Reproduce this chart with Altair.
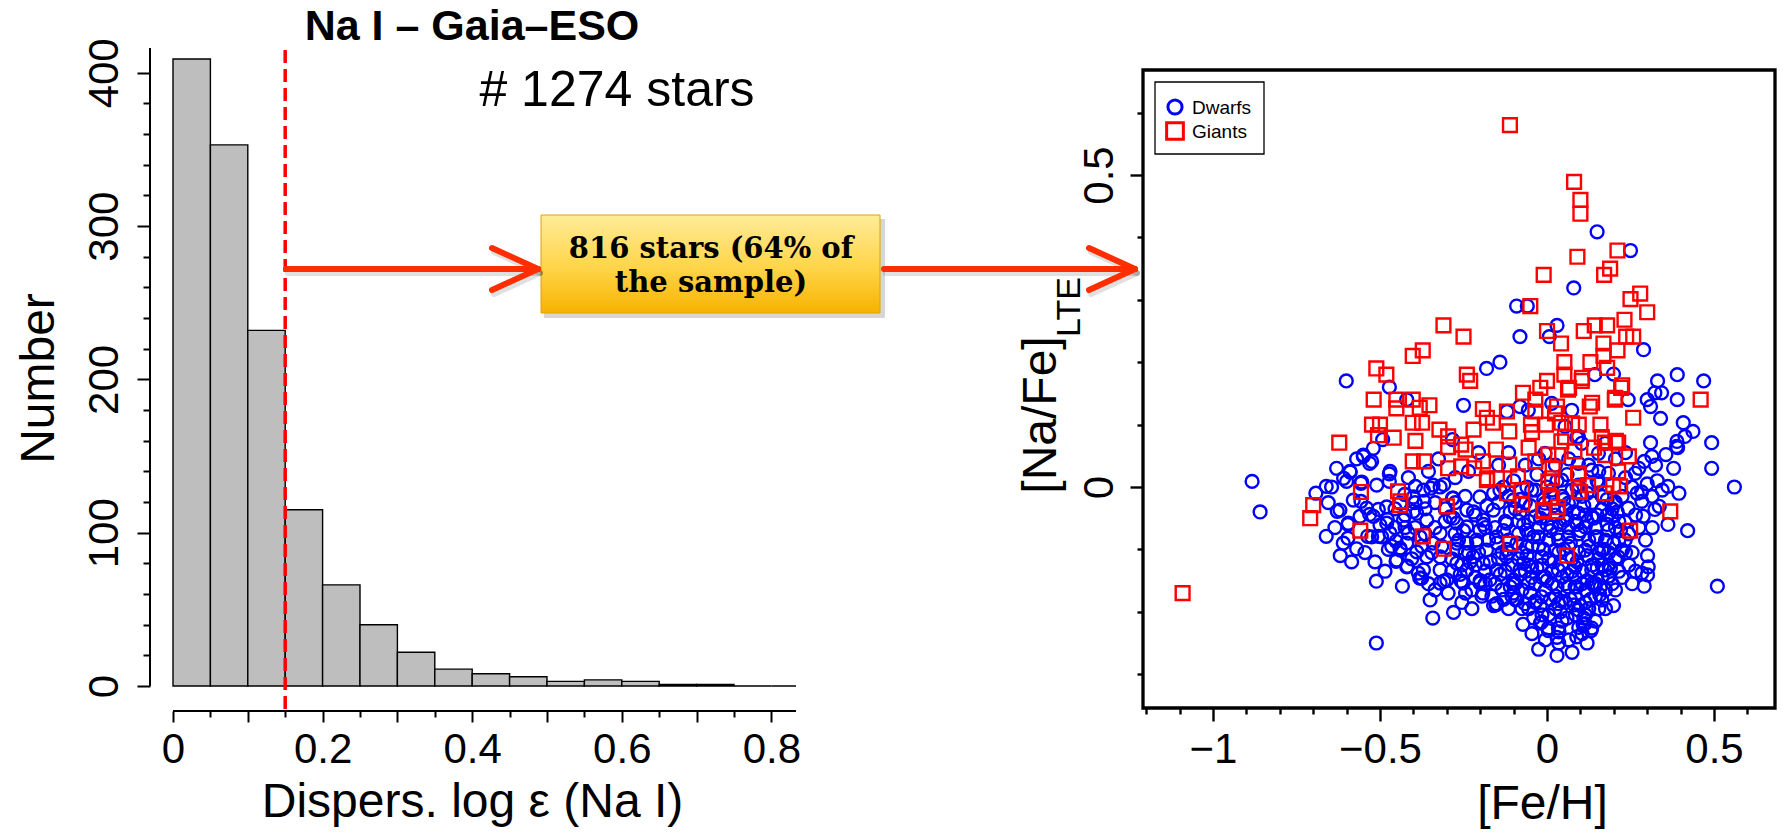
import altair as alt
import pandas as pd

FONT = "Liberation Sans"
ARROW_RED = "#FF2D00"
BLUE = "#0000FF"
RED = "#FF0000"

# ---------------- left panel: dispersion histogram ----------------
bin_lo = [0.00, 0.05, 0.10, 0.15, 0.20, 0.25, 0.30, 0.35, 0.40, 0.45, 0.50, 0.55, 0.60, 0.65, 0.70, 0.75, 0.80]
bin_hi = [0.05, 0.10, 0.15, 0.20, 0.25, 0.30, 0.35, 0.40, 0.45, 0.50, 0.55, 0.60, 0.65, 0.70, 0.75, 0.80, 0.85]
counts = [409, 353, 232, 115, 66, 40, 22, 11, 8, 6, 3, 4, 3, 1, 1, 0, 0]
cut_value = [0.15]
n_stars = 1274
n_selected = 816
pct_selected = 64

hist_x_ticks = [0, 0.05, 0.1, 0.15, 0.2, 0.25, 0.3, 0.35, 0.4, 0.45, 0.5, 0.55, 0.6, 0.65, 0.7, 0.75, 0.8]
hist_y_ticks = [0, 20, 40, 60, 80, 100, 120, 140, 160, 180, 200, 220, 240, 260, 280, 300, 320, 340, 360, 380, 400]

# ---------------- right panel: [Na/Fe] vs [Fe/H] ----------------
feh_ticks = [-1.2, -1.1, -1.0, -0.9, -0.8, -0.7, -0.6, -0.5, -0.4, -0.3, -0.2, -0.1, 0.0, 0.1, 0.2, 0.3, 0.4, 0.5, 0.6]
nafe_ticks = [-0.3, -0.2, -0.1, 0.0, 0.1, 0.2, 0.3, 0.4, 0.5, 0.6]
classes = ["Dwarfs", "Giants"]

giants = [
    (-0.111, 0.580), (0.081, 0.489), (0.100, 0.460), (0.100, 0.438), (0.091, 0.369), (0.211, 0.379),
    (0.189, 0.350), (0.171, 0.340), (-0.010, 0.340), (-0.050, 0.290), (0.279, 0.310), (0.250, 0.301),
    (0.300, 0.280), (-0.310, 0.259), (-0.250, 0.241), (-0.372, 0.219), (-0.402, 0.210), (0.000, 0.250),
    (0.042, 0.230), (0.110, 0.250), (0.143, 0.259), (0.180, 0.259), (0.232, 0.268), (0.237, 0.241),
    (0.258, 0.241), (0.169, 0.230), (0.211, 0.219), (0.169, 0.210), (0.052, 0.200), (0.130, 0.200),
    (0.180, 0.191), (-0.511, 0.190), (-0.481, 0.180), (-0.240, 0.180), (-0.230, 0.170), (0.000, 0.170),
    (0.052, 0.180), (0.104, 0.170), (-0.020, 0.159), (0.222, 0.159), (-0.519, 0.140), (-0.451, 0.140),
    (-0.402, 0.140), (-0.451, 0.126), (-0.352, 0.131), (-0.381, 0.127), (-0.072, 0.151), (-0.035, 0.140),
    (0.066, 0.159), (0.203, 0.140), (0.460, 0.140), (-0.192, 0.125), (-0.120, 0.121), (-0.035, 0.121),
    (0.030, 0.129), (0.128, 0.129), (0.258, 0.111), (-0.524, 0.100), (-0.402, 0.103), (-0.374, 0.103),
    (-0.322, 0.092), (-0.220, 0.092), (-0.162, 0.103), (-0.113, 0.089), (-0.048, 0.100), (-0.003, 0.100),
    (0.043, 0.103), (0.095, 0.100), (0.160, 0.100), (-0.622, 0.071), (-0.459, 0.079), (-0.394, 0.074),
    (-0.296, 0.081), (-0.257, 0.068), (0.206, 0.074),
    (-0.244, 0.060), (-0.192, 0.041), (-0.153, 0.060), (-0.113, 0.036), (-0.055, 0.063), (-0.035, 0.041),
    (0.004, 0.052), (0.043, 0.073), (0.082, 0.057), (0.141, 0.063), (0.173, 0.071), (0.213, 0.071),
    (0.245, 0.049), (-0.402, 0.041), (-0.368, 0.041), (-0.296, 0.030), (-0.257, 0.033), (-0.218, 0.030),
    (0.017, 0.030), (0.095, 0.020), (0.213, 0.025), (-0.087, 0.017), (-0.179, 0.014), (0.004, 0.009),
    (-0.557, -0.008), (-0.446, -0.007), (-0.439, -0.023), (-0.120, -0.010), (0.095, -0.007), (0.173, -0.010),
    (0.219, 0.001), (-0.074, -0.028), (0.010, -0.018), (-0.700, -0.029), (-0.300, -0.031), (-0.009, -0.039),
    (0.030, -0.039), (0.369, -0.039), (-0.709, -0.050), (-0.559, -0.070), (0.249, -0.070), (-0.372, -0.079),
    (-0.309, -0.099), (-0.110, -0.091), (0.060, -0.110), (-1.091, -0.170),
    (0.063, 0.156), (0.135, 0.135), (0.024, 0.118), (0.075, 0.102), (0.164, 0.080), (-0.045, 0.088),
    (0.054, 0.080), (0.033, 0.051), (0.174, 0.051), (0.093, 0.022), (0.015, 0.014), (0.123, 0.003),
    (0.099, -0.008), (0.015, -0.016), (0.033, -0.032), (-0.012, -0.037), (0.198, 0.003), (0.105, 0.175),
    (0.225, 0.163), (0.204, 0.143),
    (-0.500, 0.100), (-0.506, 0.083), (-0.296, 0.064), (-0.180, 0.111), (-0.180, 0.011), (-0.150, 0.014),
    (-0.440, -0.029), (-0.075, -0.005),
]

dwarfs_upper = [
    (0.150, 0.409), (0.250, 0.379), (0.080, 0.319), (-0.091, 0.290), (-0.059, 0.290), (0.030, 0.259),
    (-0.081, 0.241), (0.007, 0.241), (0.289, 0.220), (-0.141, 0.200), (-0.181, 0.190), (-0.601, 0.170),
    (-0.472, 0.160), (0.143, 0.180), (0.199, 0.181), (0.331, 0.170), (0.390, 0.180), (0.469, 0.170),
    (0.323, 0.151), (0.343, 0.151), (0.243, 0.140), (0.300, 0.140), (0.390, 0.140), (0.310, 0.129),
    (-0.250, 0.131), (-0.420, 0.140), (-0.120, 0.121), (-0.081, 0.129), (0.340, 0.110), (0.408, 0.103),
    (0.437, 0.089), (0.389, 0.073), (0.493, 0.071), (0.310, 0.071), (-0.492, 0.076), (-0.283, 0.076),
    (0.089, 0.079), (0.388, 0.065), (0.413, 0.081),
]

dwarfs_outer = [
    (-0.883, 0.009), (-0.859, -0.040), (0.561, 0.000), (0.510, -0.159), (-0.511, -0.250), (0.030, -0.270),
    (-0.342, -0.210), (-0.280, -0.201), (-0.350, -0.181), (-0.072, -0.220), (-0.020, -0.218), (0.004, -0.230),
    (0.036, -0.232), (0.030, -0.241), (0.089, -0.240), (0.108, -0.220), (0.132, -0.230), (0.199, -0.190),
    (-0.433, -0.159), (-0.511, -0.151), (-0.381, -0.146), (-0.619, -0.110), (-0.570, -0.099), (-0.661, -0.079),
    (-0.628, -0.039), (-0.692, -0.010), (-0.661, 0.001), (-0.645, 0.000), (-0.609, 0.014), (-0.589, 0.024),
    (-0.557, 0.006), (-0.550, 0.049), (-0.531, 0.038), (-0.596, -0.060), (-0.531, -0.044), (-0.557, -0.023),
    (-0.472, 0.021), (0.291, -0.159), (0.301, -0.141), (0.301, -0.110), (0.284, -0.138), (0.421, -0.070),
    (0.362, -0.060), (0.493, 0.030), (0.379, 0.030), (0.395, -0.010), (0.362, 0.001), (0.330, 0.010),
    (0.275, 0.030), (0.291, 0.041), (0.314, 0.049), (0.356, 0.052), (0.391, 0.063), (0.284, -0.023),
    (0.288, -0.047), (0.336, -0.031), (0.323, -0.036), (0.202, -0.026), (0.226, -0.101), (0.186, -0.143),
    (0.158, -0.173), (0.115, -0.205), (0.082, -0.189), (0.043, -0.183), (-0.035, -0.183), (-0.094, -0.181),
    (-0.153, -0.189), (-0.192, -0.170), (-0.244, -0.170), (-0.296, -0.170), (-0.309, -0.151), (-0.257, -0.151),
    (-0.418, -0.127), (-0.452, -0.119), (-0.439, -0.101), (-0.452, -0.087), (-0.505, -0.079), (-0.537, -0.079),
    (-0.596, -0.082), (-0.478, -0.052), (-0.505, -0.036), (-0.472, 0.009), (-0.426, -0.012), (-0.400, -0.039),
    (-0.368, -0.023), (-0.348, -0.002), (-0.309, 0.004), (-0.283, -0.018), (-0.394, 0.001), (0.283, -0.008),
    (0.303, -0.128),
]

dwarfs_metal_poor_side = [
    (-0.550, 0.051), (-0.525, 0.041), (-0.520, 0.062), (-0.590, 0.025), (-0.600, 0.009), (-0.555, 0.008),
    (-0.470, 0.025), (-0.510, 0.003), (-0.620, -0.037), (-0.595, -0.058), (-0.540, -0.034), (-0.520, -0.047),
    (-0.500, -0.061), (-0.525, -0.080), (-0.495, -0.080), (-0.470, -0.074), (-0.480, -0.058), (-0.430, -0.053),
    (-0.440, -0.098), (-0.450, -0.117), (-0.420, -0.128), (-0.385, -0.138), (-0.375, -0.146), (-0.320, -0.133),
    (-0.300, -0.149), (-0.360, -0.112), (-0.320, -0.112), (-0.270, -0.122), (-0.240, -0.133), (-0.201, -0.154),
    (-0.151, -0.187), (-0.101, -0.170), (-0.151, -0.133), (-0.191, -0.122), (-0.101, -0.149), (-0.071, -0.122),
    (-0.440, -0.026), (-0.400, -0.016), (-0.370, -0.005), (-0.341, 0.003), (-0.320, 0.000), (-0.281, -0.018),
    (-0.240, -0.037), (-0.290, -0.048), (-0.360, -0.053), (-0.390, -0.042), (-0.320, -0.074), (-0.270, -0.058),
    (-0.240, -0.090), (-0.201, -0.069), (-0.161, -0.037), (-0.121, -0.058), (-0.081, -0.042), (-0.201, -0.016),
    (-0.141, -0.005), (-0.101, -0.021), (-0.221, -0.112), (-0.181, -0.101), (-0.121, -0.112), (-0.061, -0.096),
    (-0.061, -0.069), (-0.191, -0.053), (-0.151, -0.080), (-0.081, -0.133), (-0.101, -0.154), (-0.171, -0.149),
    (-0.240, -0.064), (-0.211, -0.085), (-0.270, -0.090), (-0.341, -0.090), (-0.380, -0.080), (-0.415, -0.074),
    (-0.420, -0.090), (-0.390, -0.104), (-0.560, -0.047), (-0.580, -0.021), (-0.480, -0.032), (-0.251, -0.154),
    (-0.320, -0.154), (-0.370, -0.133),
    (-0.455, -0.035), (-0.425, -0.045), (-0.395, -0.025), (-0.365, -0.035), (-0.335, -0.025), (-0.305, -0.035),
    (-0.275, -0.025), (-0.245, -0.015), (-0.215, -0.045), (-0.185, -0.065), (-0.455, -0.065), (-0.425, -0.065),
    (-0.395, -0.065), (-0.365, -0.075), (-0.335, -0.065), (-0.305, -0.055), (-0.275, -0.075), (-0.245, -0.105),
    (-0.215, -0.145), (-0.185, -0.155), (-0.405, -0.115), (-0.375, -0.095), (-0.345, -0.105), (-0.315, -0.095),
    (-0.285, -0.135), (-0.255, -0.185), (-0.225, -0.195), (-0.355, -0.155), (-0.335, -0.165), (-0.465, -0.095),
    (-0.655, -0.025), (-0.635, -0.065), (-0.610, -0.090), (-0.585, -0.120), (-0.545, -0.105), (-0.515, -0.120),
    (-0.485, -0.135), (-0.475, -0.100), (-0.630, 0.030), (-0.570, 0.045),
    (-0.415, 0.015), (-0.355, 0.025), (-0.325, 0.045), (-0.275, 0.015), (-0.235, 0.025), (-0.205, 0.055),
    (-0.145, 0.035), (-0.115, 0.055), (-0.065, 0.035), (-0.025, 0.045),
]

dwarfs_metal_rich_side = [
    (0.174, -0.133), (0.184, -0.143), (0.144, -0.160), (0.084, -0.160), (0.164, -0.181), (0.094, -0.197),
    (0.034, -0.187), (-0.016, -0.176), (-0.056, -0.154), (-0.016, -0.216), (0.004, -0.226), (0.034, -0.226),
    (0.114, -0.219), (0.134, -0.226), (0.213, -0.112), (0.234, -0.085), (0.224, -0.101), (0.243, -0.034),
    (0.204, -0.024), (0.234, -0.056), (0.184, -0.069), (0.194, -0.048), (0.164, -0.036), (0.134, -0.048),
    (0.114, -0.064), (0.144, -0.080), (0.164, -0.101), (0.114, -0.101), (0.084, -0.128), (0.134, -0.133),
    (0.034, -0.133), (-0.006, -0.144), (-0.046, -0.128), (-0.016, -0.112), (0.024, -0.101), (-0.026, -0.080),
    (0.014, -0.064), (0.064, -0.080), (0.054, -0.053), (0.094, -0.042), (-0.036, -0.048), (-0.006, -0.026),
    (0.064, -0.026), (-0.046, -0.005), (0.044, 0.011), (0.094, 0.003), (0.154, 0.006), (0.184, 0.022),
    (0.134, 0.027), (0.094, 0.038), (0.104, 0.070), (0.154, 0.054), (0.174, 0.070), (0.074, 0.123),
    (-0.056, 0.123), (0.014, 0.134), (0.094, 0.081), (0.054, 0.097), (-0.006, 0.054), (0.254, 0.000),
    (0.264, 0.022), (0.064, -0.160), (-0.066, -0.187),
    (0.265, -0.045), (0.275, -0.065), (0.295, -0.085), (0.315, -0.065), (0.265, -0.135), (0.255, -0.155),
    (0.270, -0.010), (0.300, 0.005), (0.315, -0.015), (0.345, -0.005), (0.325, 0.035), (0.235, 0.015),
    (0.225, -0.015), (0.025, 0.035), (0.065, 0.045), (0.125, 0.035), (0.155, 0.025), (0.205, 0.045),
    (0.235, 0.055),
]

dwarfs_core = [
    (-0.02, -0.05), (0.01, -0.07), (0.04, -0.06), (0.07, -0.09), (0.10, -0.07), (0.12, -0.11), (0.09, -0.12),
    (0.05, -0.10), (0.02, -0.12), (-0.01, -0.10), (-0.04, -0.08), (-0.07, -0.06), (-0.09, -0.09), (-0.06, -0.11),
    (-0.03, -0.13), (0.00, -0.15), (0.03, -0.16), (0.06, -0.14), (0.09, -0.16), (0.12, -0.15), (0.15, -0.13),
    (0.17, -0.10), (0.15, -0.08), (0.18, -0.06), (0.14, -0.05), (0.11, -0.03), (0.08, -0.04), (0.05, -0.02),
    (0.02, -0.03), (-0.01, -0.02), (-0.05, -0.03), (-0.08, -0.02), (-0.11, -0.04), (-0.13, -0.07), (-0.12, -0.10),
    (-0.15, -0.09), (-0.17, -0.12), (-0.14, -0.14), (-0.11, -0.16), (-0.08, -0.14), (-0.05, -0.17), (-0.02, -0.19),
    (0.01, -0.18), (0.04, -0.20), (0.07, -0.18), (0.10, -0.19), (0.13, -0.18), (0.16, -0.16), (0.19, -0.13),
    (0.20, -0.09), (-0.19, -0.06), (-0.21, -0.09), (-0.23, -0.12), (-0.20, -0.15), (-0.18, -0.03), (-0.22, -0.04),
    (-0.25, -0.07), (-0.27, -0.10), (-0.26, -0.14), (-0.28, -0.05), (-0.16, -0.01), (-0.13, 0.00), (-0.10, 0.01),
    (-0.06, 0.00), (-0.03, 0.02), (0.00, 0.00), (0.03, 0.01), (0.06, 0.02), (0.09, 0.00), (0.12, -0.01),
    (0.15, 0.01), (0.18, -0.02), (0.21, -0.04), (0.22, -0.07), (0.06, -0.21), (-0.04, -0.21), (0.11, -0.21),
    (-0.09, -0.18), (-0.13, -0.18), (-0.16, -0.19),
    (-0.005, -0.035), (0.025, -0.045), (0.055, -0.035), (0.085, -0.055), (0.115, -0.045), (0.145, -0.065),
    (0.175, -0.085), (0.205, -0.115), (0.185, -0.125), (0.155, -0.105), (0.125, -0.085), (0.095, -0.075),
    (0.065, -0.065), (0.035, -0.085), (0.005, -0.085), (-0.025, -0.065), (-0.055, -0.055), (-0.085, -0.075),
    (-0.115, -0.085), (-0.135, -0.105), (-0.105, -0.125), (-0.075, -0.105), (-0.045, -0.095), (-0.015, -0.125),
    (0.015, -0.135), (0.045, -0.125), (0.075, -0.115), (0.105, -0.135), (0.135, -0.125), (0.165, -0.145),
    (0.145, -0.175), (0.115, -0.165), (0.085, -0.145), (0.055, -0.155), (0.025, -0.175), (-0.005, -0.165),
    (-0.035, -0.155), (-0.065, -0.135), (-0.095, -0.155), (-0.125, -0.135), (-0.155, -0.155), (-0.185, -0.135),
    (-0.215, -0.125), (-0.235, -0.105), (-0.205, -0.105), (-0.175, -0.085), (-0.155, -0.065), (-0.125, -0.055),
    (-0.095, -0.035), (-0.065, -0.025), (-0.035, -0.005), (0.015, -0.005), (0.045, -0.015), (0.075, -0.005),
    (0.105, -0.015), (0.135, -0.025), (0.165, -0.015), (0.195, -0.035), (0.215, -0.055), (0.245, -0.075),
    (0.255, -0.105), (0.245, -0.125), (0.225, -0.145), (0.205, -0.165), (0.175, -0.165), (-0.265, -0.085),
    (-0.285, -0.115), (-0.255, -0.125), (-0.225, -0.165), (-0.195, -0.175), (-0.115, -0.195), (-0.075, -0.195),
    (-0.035, -0.185), (0.005, -0.205), (0.045, -0.215), (0.085, -0.205), (0.125, -0.195), (0.155, -0.195),
    (-0.005, -0.245), (0.065, -0.245), (-0.045, -0.235), (0.105, -0.235), (0.035, -0.250), (0.075, -0.265),
    (-0.025, -0.260), (0.120, -0.250),
    (-0.145, -0.025), (-0.115, -0.015), (-0.085, -0.055), (-0.055, -0.075), (-0.025, -0.095), (0.005, -0.115),
    (0.035, -0.105), (0.065, -0.095), (0.095, -0.105), (0.125, -0.095), (0.155, -0.115), (0.185, -0.105),
    (0.215, -0.085), (0.235, -0.105), (0.215, -0.135), (0.195, -0.155), (0.165, -0.125), (0.135, -0.155),
    (0.105, -0.155), (0.075, -0.135), (0.045, -0.145), (0.015, -0.155), (-0.015, -0.145), (-0.045, -0.145),
    (-0.075, -0.165), (-0.105, -0.175), (-0.135, -0.165), (-0.165, -0.175), (-0.145, -0.115), (-0.115, -0.105),
    (-0.085, -0.115), (-0.055, -0.125), (0.025, -0.195), (0.055, -0.185), (0.085, -0.175), (0.115, -0.185),
    (0.145, -0.155), (-0.015, -0.205), (-0.055, -0.195), (0.095, -0.225), (0.145, -0.215), (0.175, -0.195),
    (0.000, -0.060), (0.030, -0.075), (0.060, -0.050), (0.090, -0.060), (0.120, -0.055), (0.150, -0.045),
    (0.180, -0.045), (0.205, -0.065),
]

dwarfs = dwarfs_upper + dwarfs_outer + dwarfs_metal_poor_side + dwarfs_metal_rich_side + dwarfs_core

# ---------------- tables ----------------
hist_df = pd.DataFrame({"lo": bin_lo, "hi": bin_hi, "n": counts, "base": [0] * len(counts)})
cut_df = pd.DataFrame({"cut": cut_value})
dwarf_df = pd.DataFrame(dwarfs, columns=["feh", "nafe"])
giant_df = pd.DataFrame(giants, columns=["feh", "nafe"])
one = alt.Data(values=[{}])

# ---------------- left panel ----------------
LW, LH = 646, 663
x_hist = alt.Scale(domain=[-0.03075, 0.8329], nice=False, zero=False)
y_hist = alt.Scale(domain=[-16.31, 416.2], nice=False, zero=False)

hist_xaxis = alt.Axis(
    values=hist_x_ticks, domain=False, grid=False, labelFlush=False, labelOverlap=False,
    labelExpr="abs(datum.value * 5 - round(datum.value * 5)) < 1e-6 ? format(datum.value, '~g') : ''",
    tickSize={"condition": {"test": "abs(datum.value * 10 - round(datum.value * 10)) < 1e-6", "value": 11}, "value": 6},
    tickWidth=2, labelFontSize=42, labelPadding=7,
    title="Dispers. log \u03b5 (Na I)", titleFontSize=48, titleFontWeight="normal",
    titleX=322, titleY=105, titleAlign="center", titleBaseline="alphabetic", titleAngle=0,
)
hist_yaxis = alt.Axis(
    values=hist_y_ticks, domain=False, grid=False, labelFlush=False, labelOverlap=False,
    labelExpr="datum.value % 100 === 0 ? format(datum.value, 'd') : ''",
    tickSize={"condition": {"test": "datum.value % 100 === 0", "value": 13}, "value": 7},
    tickWidth=2, labelFontSize=42, labelAngle=270, labelAlign="center", labelBaseline="bottom", labelPadding=11,
    title="Number", titleFontSize=48, titleFontWeight="normal", titleAngle=270,
    titleX=-97, titleY=330, titleAlign="center", titleBaseline="alphabetic",
)

bars = alt.Chart(hist_df).mark_rect(fill="#BEBEBE", stroke="black", strokeWidth=1.4, clip=True).encode(
    x=alt.X("lo:Q", scale=x_hist, axis=hist_xaxis),
    x2="hi:Q",
    y=alt.Y("base:Q", scale=y_hist, axis=hist_yaxis),
    y2="n:Q",
)

# axis lines drawn R-style: y line from 0 upward, x line from 0 to the right edge
y_line = alt.Chart(one).mark_rule(color="black", strokeWidth=2).encode(
    x=alt.value(0), y=alt.YDatum(0, axis=hist_yaxis), y2=alt.Y2Datum(416.2)
)
x_line = alt.Chart(one).mark_rule(color="black", strokeWidth=2).encode(
    x=alt.XDatum(0, axis=hist_xaxis), x2=alt.value(LW), y=alt.value(LH)
)

cut_line = alt.Chart(cut_df).mark_rule(color="#FF0000", strokeWidth=3.5, strokeDash=[13, 6]).encode(
    x=alt.X("cut:Q", axis=hist_xaxis), y=alt.value(2), y2=alt.value(LH)
)

title_txt = alt.Chart(one).mark_text(
    text="Na I \u2013 Gaia\u2013ESO", font=FONT, fontSize=43, fontWeight="bold", align="center", baseline="alphabetic"
).encode(x=alt.value(322), y=alt.value(-8))

count_txt = alt.Chart(one).mark_text(
    text=f"# {n_stars} stars", font=FONT, fontSize=50, align="center", baseline="alphabetic"
).encode(x=alt.value(467), y=alt.value(58))

# selection box with a soft drop shadow
box_shadow = alt.Chart(one).mark_rect(fill="#000000", opacity=0.16).encode(
    x=alt.value(394), x2=alt.value(735), y=alt.value(171), y2=alt.value(270)
)
box = alt.Chart(one).mark_rect(
    fill=alt.Gradient(
        gradient="linear",
        stops=[
            alt.GradientStop(color="#FFEC99", offset=0),
            alt.GradientStop(color="#FFD447", offset=0.55),
            alt.GradientStop(color="#F6B300", offset=1),
        ],
        x1=0, x2=0, y1=0, y2=1,
    ),
    stroke="#E0A200", strokeWidth=1,
).encode(x=alt.value(391), x2=alt.value(730), y=alt.value(167), y2=alt.value(265))

box_txt1 = alt.Chart(one).mark_text(
    text=f"{n_selected} stars ({pct_selected}% of", font="DejaVu Serif", fontSize=29, fontWeight="bold",
    align="center", baseline="alphabetic", color="black",
).encode(x=alt.value(561), y=alt.value(210))
box_txt2 = alt.Chart(one).mark_text(
    text="the sample)", font="DejaVu Serif", fontSize=29, fontWeight="bold",
    align="center", baseline="alphabetic", color="black",
).encode(x=alt.value(561), y=alt.value(244))


def seg(x1, y1, x2, y2, color, width, opacity=1.0):
    return alt.Chart(one).mark_rule(
        color=color, strokeWidth=width, strokeCap="round", opacity=opacity
    ).encode(x=alt.value(x1), y=alt.value(y1), x2=alt.value(x2), y2=alt.value(y2))


def arrow(x_start, x_tip, y, color, width, opacity=1.0, dx=0, dy=0):
    back = 46
    half = 21
    return [
        seg(x_start + dx, y + dy, x_tip + dx, y + dy, color, width, opacity),
        seg(x_tip - back + dx, y - half + dy, x_tip + dx, y + dy, color, width, opacity),
        seg(x_tip - back + dx, y + half + dy, x_tip + dx, y + dy, color, width, opacity),
    ]


arrows = (
    arrow(136, 388, 221, "#000000", 6, 0.12, 2, 4)
    + arrow(734, 985, 221, "#000000", 6, 0.12, 2, 4)
    + arrow(136, 388, 221, ARROW_RED, 6)
    + arrow(734, 985, 221, ARROW_RED, 6)
)

# invisible anchor fixing the page origin
anchor_left = alt.Chart(one).mark_rule(strokeOpacity=0).encode(
    x=alt.value(-150), x2=alt.value(-150), y=alt.value(-48), y2=alt.value(-40)
)

left = alt.layer(
    bars, y_line, x_line, cut_line, title_txt, count_txt, box_shadow, box, box_txt1, box_txt2, *arrows, anchor_left
).properties(width=LW, height=LH)

# ---------------- right panel ----------------
RW, RH = 632, 660
x_sc = alt.Scale(domain=[-1.2096, 0.6826], nice=False, zero=False)
y_sc = alt.Scale(domain=[-0.35417, 0.70353], nice=False, zero=False)
half_step = "abs(datum.value * 2 - round(datum.value * 2)) < 1e-6"

sc_xaxis = alt.Axis(
    values=feh_ticks, domain=False, grid=False, labelFlush=False, labelOverlap=False,
    labelExpr=f"{half_step} ? format(datum.value, '~g') : ''",
    tickSize={"condition": {"test": half_step, "value": 13}, "value": 6},
    tickWidth=2.4, labelFontSize=42, labelPadding=8,
    title="[Fe/H]", titleFontSize=48, titleFontWeight="normal",
    titleX=399, titleY=110, titleAlign="center", titleBaseline="alphabetic", titleAngle=0,
)
sc_yaxis = alt.Axis(
    values=nafe_ticks, domain=False, grid=False, labelFlush=False, labelOverlap=False,
    labelExpr=f"{half_step} ? format(datum.value, '~g') : ''",
    tickSize={"condition": {"test": half_step, "value": 13}, "value": 6},
    tickWidth=2.4, labelFontSize=42, labelAngle=270, labelAlign="center", labelBaseline="bottom", labelPadding=9,
    title=None,
)

dwarf_pts = alt.Chart(dwarf_df).mark_point(
    shape="circle", filled=False, color=BLUE, size=165, strokeWidth=2.4, opacity=1
).encode(
    x=alt.X("feh:Q", scale=x_sc, axis=sc_xaxis),
    y=alt.Y("nafe:Q", scale=y_sc, axis=sc_yaxis),
)
giant_pts = alt.Chart(giant_df).mark_point(
    shape="square", filled=False, color=RED, size=190, strokeWidth=2.4, opacity=1
).encode(
    x=alt.X("feh:Q", scale=x_sc, axis=sc_xaxis),
    y=alt.Y("nafe:Q", scale=y_sc, axis=sc_yaxis),
)

frame = alt.Chart(one).mark_rect(fillOpacity=0, stroke="black", strokeWidth=3.3).encode(
    x=alt.value(0), x2=alt.value(RW), y=alt.value(22), y2=alt.value(RH)
)

# legend box in the upper-left corner of the frame
leg_box = alt.Chart(one).mark_rect(fill="white", stroke="black", strokeWidth=1.3).encode(
    x=alt.value(12), x2=alt.value(121), y=alt.value(34), y2=alt.value(106)
)
leg_dwarf_sym = alt.Chart(one).mark_point(
    shape="circle", filled=False, color=BLUE, size=200, strokeWidth=3, opacity=1
).encode(x=alt.value(32), y=alt.value(59))
leg_giant_sym = alt.Chart(one).mark_point(
    shape="square", filled=False, color=RED, size=280, strokeWidth=3, opacity=1
).encode(x=alt.value(32), y=alt.value(83))
leg_dwarf_txt = alt.Chart(one).mark_text(
    text=classes[0], font=FONT, fontSize=19, align="left", baseline="alphabetic", color="black"
).encode(x=alt.value(49), y=alt.value(66))
leg_giant_txt = alt.Chart(one).mark_text(
    text=classes[1], font=FONT, fontSize=19, align="left", baseline="alphabetic", color="black"
).encode(x=alt.value(49), y=alt.value(90))

ytitle_main = alt.Chart(one).mark_text(
    text="[Na/Fe]", font=FONT, fontSize=48, angle=270, align="center", baseline="alphabetic"
).encode(x=alt.value(-87), y=alt.value(367))
ytitle_sub = alt.Chart(one).mark_text(
    text="LTE", font=FONT, fontSize=34, angle=270, align="center", baseline="alphabetic"
).encode(x=alt.value(-63), y=alt.value(259))

anchor_right = alt.Chart(one).mark_rule(strokeOpacity=0).encode(
    x=alt.value(640), x2=alt.value(640), y=alt.value(780), y2=alt.value(787)
)

right = alt.layer(
    dwarf_pts, giant_pts, frame, leg_box, leg_dwarf_sym, leg_giant_sym, leg_dwarf_txt, leg_giant_txt,
    ytitle_main, ytitle_sub, anchor_right,
).properties(width=RW, height=RH)

chart = (
    alt.hconcat(left, right, spacing=347, bounds="flush")
    .properties(padding=0)
    .configure_view(stroke=None)
    .configure_axis(labelFont=FONT, titleFont=FONT, labelColor="black", titleColor="black", tickColor="black")
)

chart.save("out.html", embed_options={"renderer": "svg", "actions": False})
